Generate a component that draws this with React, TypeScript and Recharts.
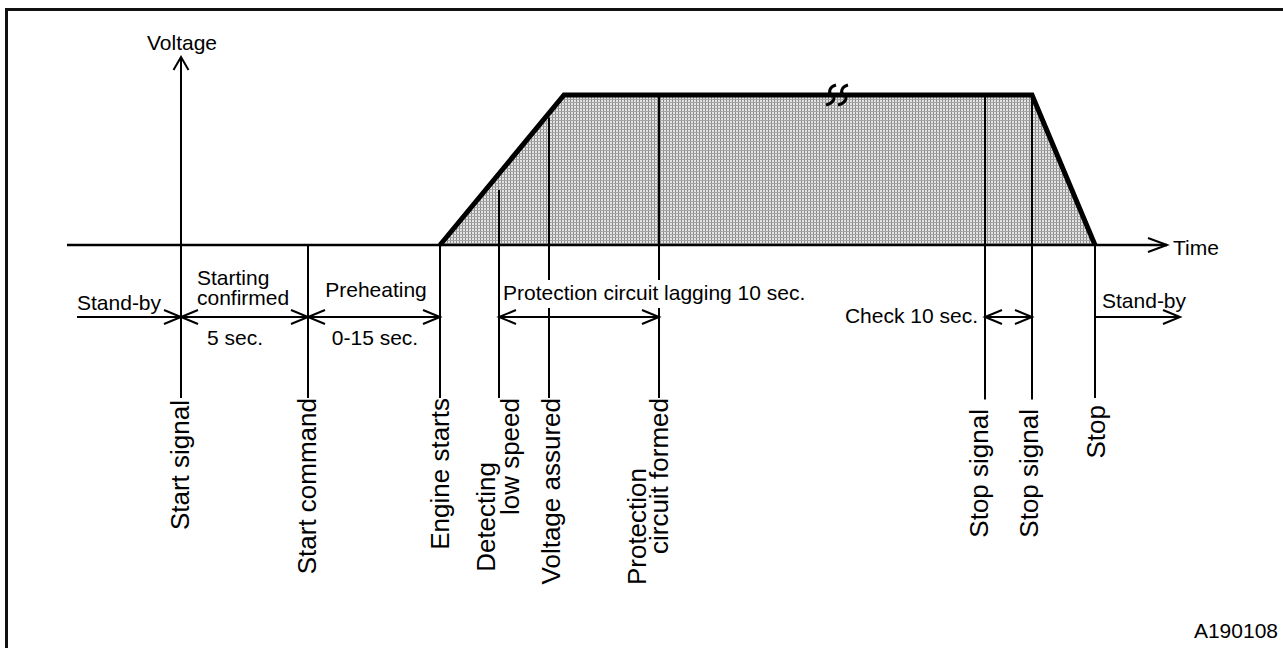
import React from 'react';
import { ComposedChart, Area, XAxis, YAxis, ReferenceLine, ReferenceDot } from 'recharts';

// Schematic time units (Start signal = 0) and voltage units (running voltage = 1)
const T_DOMAIN: [number, number] = [-181, 1102];
const V_DOMAIN: [number, number] = [-2.68667, 1.63333];

const voltageCurve = [
  { t: 259, v: 0 },
  { t: 383, v: 1 },
  { t: 851, v: 1 },
  { t: 914, v: 0 },
];

// vertical event lines: [t, vFrom, vTo]
const eventLines: [number, number, number][] = [
  [127, 0, -1.02],
  [259, 0, -1.02],
  [318, 0.367, -1.02],
  [368, 0.85, -0.233],
  [368, -0.42, -1.02],
  [478, 1, -0.233],
  [478, -0.42, -1.02],
  [804, 1, -1.03],
  [851, 1, -1.03],
  [914, 0, -1.02],
];

// horizontal arrows: [tFrom, tTo, v, headAtStart, headAtEnd]
const spanArrows: [number, number, number, boolean, boolean][] = [
  [-104, 0, -0.48, false, true],
  [0, 127, -0.48, true, true],
  [127, 259, -0.48, true, true],
  [318, 478, -0.48, true, true],
  [804, 851, -0.48, true, true],
  [914, 999, -0.48, false, true],
];

// horizontal texts: [text, t, v, anchor]
const flatLabels: [string, number, number, 'start' | 'middle' | 'end'][] = [
  ['Voltage', 1, 1.3, 'middle'],
  ['Stand-by', -104, -0.4333, 'start'],
  ['Starting', 16, -0.2667, 'start'],
  ['confirmed', 16, -0.3967, 'start'],
  ['5 sec.', 54, -0.6667, 'middle'],
  ['Preheating', 195, -0.3467, 'middle'],
  ['0-15 sec.', 194, -0.6667, 'middle'],
  ['Protection circuit lagging 10 sec.', 322, -0.3667, 'start'],
  ['Check 10 sec.', 797, -0.52, 'end'],
  ['Stand-by', 921, -0.42, 'start'],
  ['Time', 992, -0.0667, 'start'],
  ['A190108', 1097, -2.62, 'end'],
];

// rotated texts: [text, t (baseline), v (top end)]
const eventLabels: [string, number, number][] = [
  ['Start signal', 8, -1.0333],
  ['Start command', 135, -1.02],
  ['Engine starts', 268, -1.02],
  ['Detecting', 314, -1.4467],
  ['low speed', 338, -1.02],
  ['Voltage assured', 379, -1.02],
  ['Protection', 465, -1.4867],
  ['circuit formed', 487, -1.02],
  ['Stop signal', 807, -1.0933],
  ['Stop signal', 857, -1.0933],
  ['Stop', 924, -1.0667],
];

const FONT = '"Liberation Sans", Arial, Helvetica, sans-serif';

const arrowShape = (startHead: boolean, endHead: boolean, len = 17, hw = 7, sw = 2) => (props: any) => {
  const { x1, y1, x2, y2 } = props;
  const dx = x2 - x1;
  const dy = y2 - y1;
  const L = Math.hypot(dx, dy) || 1;
  const ux = dx / L;
  const uy = dy / L;
  const px = -uy;
  const py = ux;
  const head = (x: number, y: number, dir: number) =>
    `M${x - dir * ux * len + px * hw},${y - dir * uy * len + py * hw} L${x},${y} L${x - dir * ux * len - px * hw},${y - dir * uy * len - py * hw}`;
  return (
    <g>
      <line x1={x1} y1={y1} x2={x2} y2={y2} stroke="#000" strokeWidth={sw} />
      {startHead && <path d={head(x1, y1, -1)} fill="none" stroke="#000" strokeWidth={2} />}
      {endHead && <path d={head(x2, y2, 1)} fill="none" stroke="#000" strokeWidth={2} />}
    </g>
  );
};

const breakShape = (props: any) => {
  const { cx, cy } = props;
  const s = (x: number) =>
    `M${x + 5},${cy - 10} C${x - 2},${cy - 8} ${x - 3},${cy - 2} ${x + 1},${cy} C${x + 5},${cy + 2} ${x + 3},${cy + 8} ${x - 5},${cy + 10}`;
  return (
    <g>
      <path d={s(cx - 6)} fill="none" stroke="#000" strokeWidth={3} />
      <path d={s(cx + 6)} fill="none" stroke="#000" strokeWidth={3} />
    </g>
  );
};

export default function App() {
  return (
    <div style={{ position: 'relative', width: 1283, height: 648, overflow: 'hidden', background: '#fff' }}>
      <style>{`body{margin:0}`}</style>
      <div
        style={{
          position: 'absolute',
          left: 5,
          top: 8,
          width: 1300,
          height: 700,
          border: '3px solid #111',
          boxSizing: 'border-box',
        }}
      />
      <div style={{ position: 'absolute', left: 0, top: 0 }}>
        <ComposedChart width={1283} height={648} data={voltageCurve} margin={{ top: 0, right: 0, bottom: 0, left: 0 }}>
          <defs>
            <pattern id="hatch" width="3" height="3" patternUnits="userSpaceOnUse">
              <rect width="3" height="3" fill="#e4e4e4" />
              <rect width="1" height="3" fill="#8c8c8c" />
              <rect width="3" height="1" fill="#a4a4a4" />
            </pattern>
          </defs>
          <XAxis type="number" dataKey="t" domain={T_DOMAIN} hide allowDataOverflow />
          <YAxis type="number" domain={V_DOMAIN} hide allowDataOverflow />
          <Area
            type="linear"
            dataKey="v"
            baseValue={0}
            fill="url(#hatch)"
            fillOpacity={1}
            stroke="none"
            dot={false}
            activeDot={false}
            isAnimationActive={false}
          />
          {eventLines.map(([t, a, b], i) => (
            <ReferenceLine
              key={'e' + i}
              segment={[{ x: t, y: a }, { x: t, y: b }]}
              stroke="#000"
              strokeWidth={2}
              ifOverflow="visible"
            />
          ))}
          <Area
            type="linear"
            dataKey="v"
            baseValue={0}
            fill="none"
            stroke="#000"
            strokeWidth={5}
            strokeLinejoin="miter"
            dot={false}
            activeDot={false}
            isAnimationActive={false}
          />
          {/* time axis */}
          <ReferenceLine
            segment={[{ x: -114, y: 0 }, { x: 986, y: 0 }]}
            shape={arrowShape(false, true, 19, 7, 2.5)}
            ifOverflow="visible"
          />
          {/* voltage axis / start signal */}
          <ReferenceLine
            segment={[{ x: 0, y: -1.02 }, { x: 0, y: 1.2533 }]}
            shape={arrowShape(false, true, 13, 7.5, 2)}
            ifOverflow="visible"
          />
          {spanArrows.map(([a, b, v, s, e], i) => (
            <ReferenceLine
              key={'a' + i}
              segment={[{ x: a, y: v }, { x: b, y: v }]}
              shape={arrowShape(s, e, 17, 7, 2)}
              ifOverflow="visible"
            />
          ))}
          <ReferenceDot x={656} y={1} ifOverflow="visible" shape={breakShape} />
          {flatLabels.map(([text, t, v, anchor], i) => (
            <ReferenceDot
              key={'f' + i}
              x={t}
              y={v}
              ifOverflow="visible"
              shape={(p: any) => (
                <text x={p.cx} y={p.cy} textAnchor={anchor} fontFamily={FONT} fontSize={21} fill="#000">
                  {text}
                </text>
              )}
            />
          ))}
          {eventLabels.map(([text, t, v], i) => (
            <ReferenceDot
              key={'r' + i}
              x={t}
              y={v}
              ifOverflow="visible"
              shape={(p: any) => (
                <text
                  x={p.cx}
                  y={p.cy}
                  transform={`rotate(-90 ${p.cx} ${p.cy})`}
                  textAnchor="end"
                  fontFamily={FONT}
                  fontSize={26}
                  fill="#000"
                >
                  {text}
                </text>
              )}
            />
          ))}
        </ComposedChart>
      </div>
    </div>
  );
}
